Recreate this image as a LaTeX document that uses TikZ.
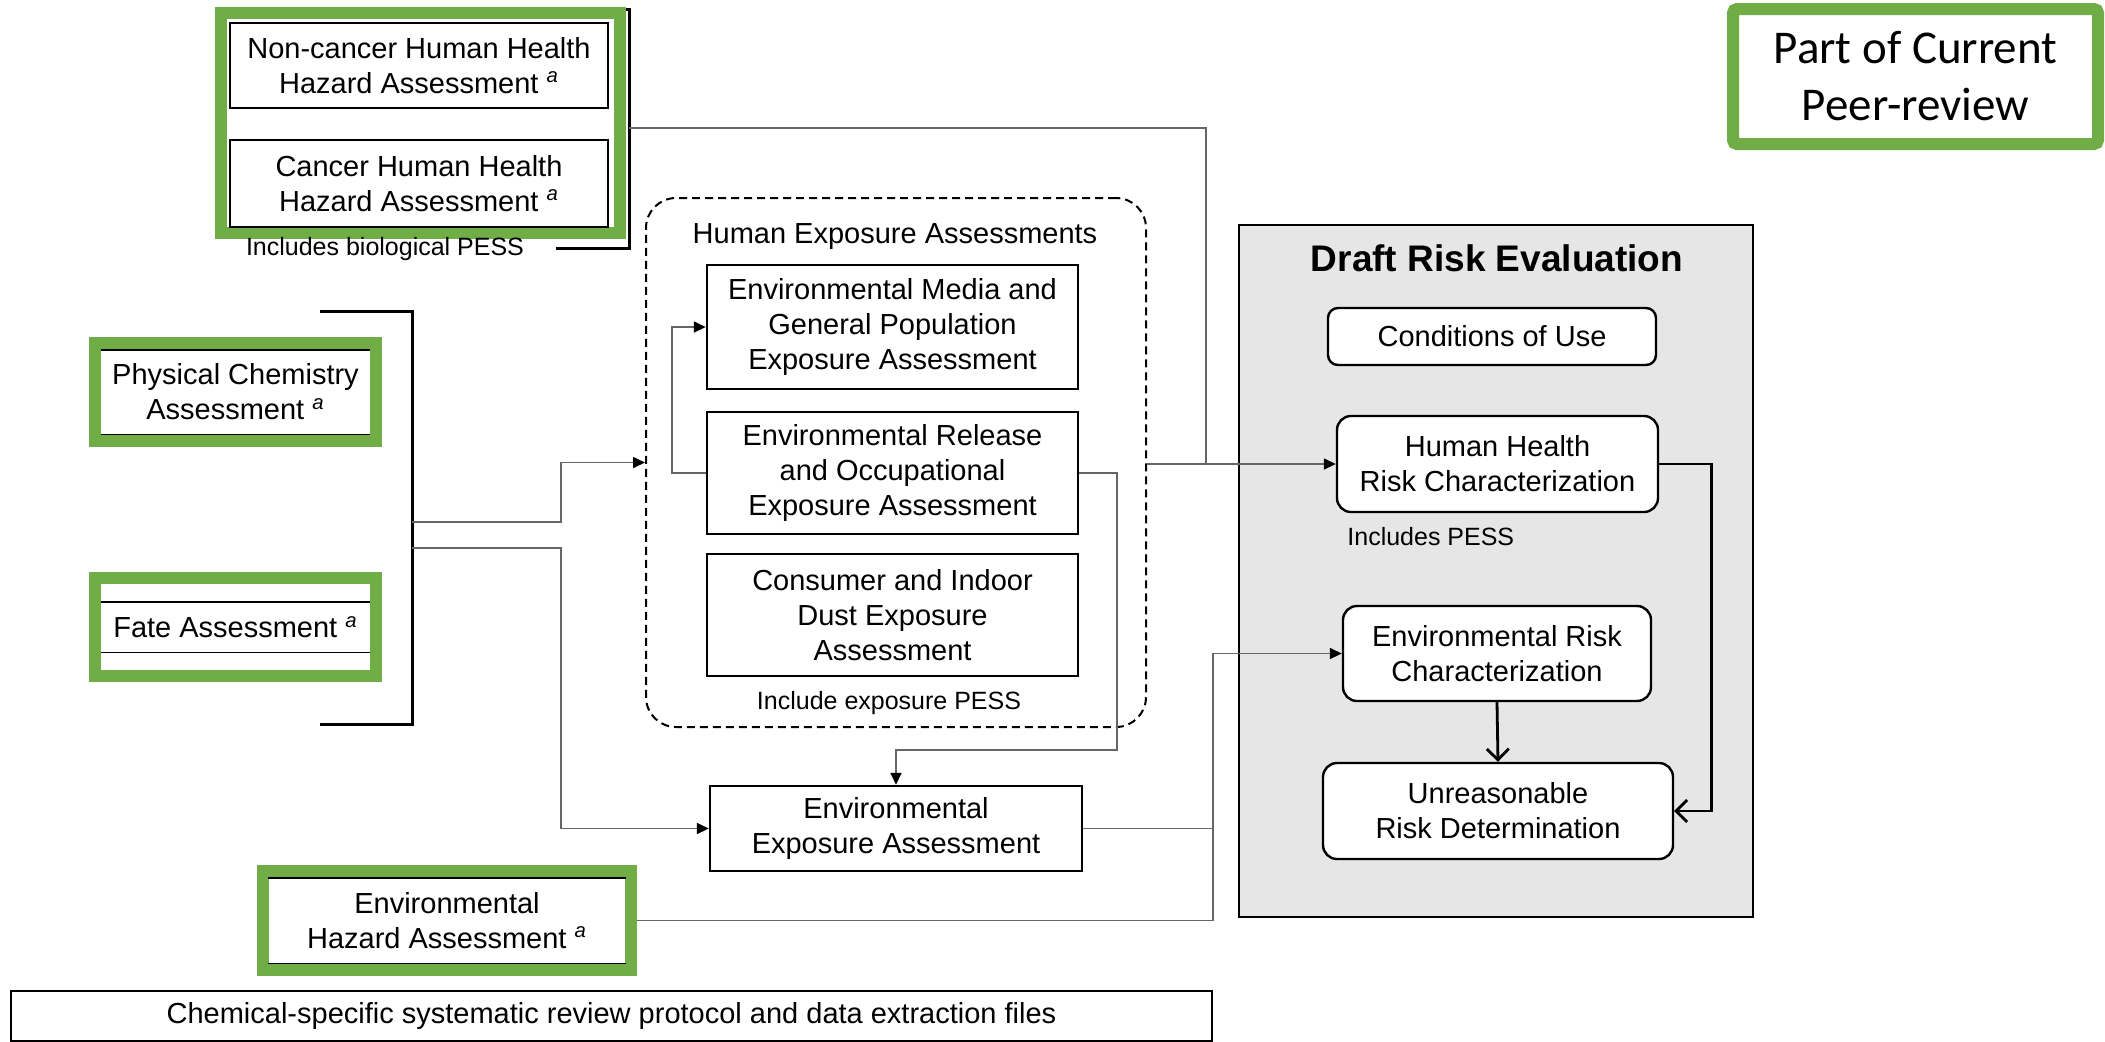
\documentclass[tikz,border=0pt]{standalone}
\usepackage{fontspec}
\setmainfont{Liberation Sans}
\newfontfamily\calibrifont{Carlito}
\usetikzlibrary{arrows.meta,calc}

\definecolor{peergreen}{HTML}{70AD47}
\definecolor{panelgray}{HTML}{E6E6E6}
\definecolor{wiregray}{HTML}{666666}

\newcommand\hazsup{\textsuperscript{\itshape a}}

\begin{document}
\begin{tikzpicture}[x=0.5pt,y=-0.5pt,
  txt/.style={font=\fontsize{14.5pt}{17.5pt}\selectfont, align=center, inner sep=2pt},
  note/.style={font=\fontsize{12.5pt}{15pt}\selectfont, inner sep=0pt},
  plainbox/.style={txt, draw=black, line width=1.2pt, fill=white},
  riskbox/.style={plainbox, rounded corners=7pt},
  greenframe/.style={draw=peergreen, line width=6pt, fill=white, inner sep=0pt},
  innerpanel/.style={txt, draw=none},
  rule/.style={line width=0.9pt, black},
  bracket/.style={line width=1.5pt, black},
  wire/.style={line width=0.8pt, draw=wiregray},
  conn/.style={wire, -{Triangle[length=6pt,width=5.5pt,color=black]}},
  flow/.style={line width=1.4pt, black, -{Straight Barb[length=5.5pt,width=11pt]}},
]
\fill[white] (0,0) rectangle (2105,1041);
\useasboundingbox (0,0) rectangle (2105,1041);

% ---- human health hazard group ----
\draw[bracket] (556,248) -- (629,248) -- (629,9) -- (600,9);
\coordinate (hhtap) at (629,128);
\node[greenframe, minimum width=199.5pt, minimum height=110pt] (hhframe) at (420.5,123) {};
\node[plainbox, minimum width=189pt, minimum height=42.5pt] (noncancer) at (419,65.5)
  {Non-cancer Human Health\\Hazard Assessment \hazsup};
\node[plainbox, minimum width=189pt, minimum height=43.5pt] (cancer) at (419,183.5)
  {Cancer Human Health\\Hazard Assessment \hazsup};
\node[note] (biopess) at (385,249) {Includes biological PESS};

% ---- physical chemistry and fate group ----
\draw[bracket] (320,311) -- (412,311) -- (412,724) -- (320,724);
\coordinate (uptap) at (412,522);
\coordinate (lowtap) at (412,548);

\node[greenframe, minimum width=140.5pt, minimum height=49pt] (pcframe) at (235.5,392) {};
\node[innerpanel, minimum width=134.5pt, minimum height=42pt] (pchem) at (235.5,392)
  {Physical Chemistry\\Assessment \hazsup};
\draw[rule] (pchem.north west) -- (pchem.north east) (pchem.south west) -- (pchem.south east);

\node[greenframe, minimum width=140.5pt, minimum height=49pt] (fateframe) at (235.5,627) {};
\node[innerpanel, minimum width=134.5pt, minimum height=25pt] (fate) at (235.5,627)
  {Fate Assessment \hazsup};
\draw[rule] (fate.north west) -- (fate.north east) (fate.south west) -- (fate.south east);

% ---- environmental hazard ----
\node[greenframe, minimum width=184pt, minimum height=49.5pt] (ehframe) at (447,920.5) {};
\node[innerpanel, minimum width=179pt, minimum height=42.5pt] (envhaz) at (447,920.5)
  {Environmental\\Hazard Assessment \hazsup};
\draw[rule] (envhaz.north west) -- (envhaz.north east) (envhaz.south west) -- (envhaz.south east);

% ---- human exposure assessments ----
\node[draw=black, dash pattern=on 4pt off 2.5pt, line width=1pt, rounded corners=15pt,
      minimum width=250pt, minimum height=264.5pt] (hea) at (896,462.5) {};
\node[txt] (heatitle) at (895,237) {Human Exposure Assessments};
\node[plainbox, minimum width=185.5pt, minimum height=62pt] (media) at (892.5,327)
  {Environmental Media and\\General Population\\Exposure Assessment};
\node[plainbox, minimum width=185.5pt, minimum height=61pt] (release) at (892.5,473)
  {Environmental Release\\and Occupational\\Exposure Assessment};
\node[plainbox, minimum width=185.5pt, minimum height=61pt] (consumer) at (892.5,615)
  {Consumer and Indoor\\Dust Exposure\\Assessment};
\node[note] (expopess) at (889,703) {Include exposure PESS};

\node[plainbox, minimum width=186pt, minimum height=42.5pt] (envexp) at (896,828.5)
  {Environmental\\Exposure Assessment};

% ---- draft risk evaluation ----
\node[draw=black, line width=1.3pt, fill=panelgray, minimum width=257pt, minimum height=346pt] (dre) at (1496,571) {};
\node[font=\fontsize{18.5pt}{21pt}\selectfont\bfseries, inner sep=0pt] (dretitle) at (1497,258) {Draft Risk Evaluation};
\node[riskbox, minimum width=164pt, minimum height=28.5pt, rounded corners=5pt] (cou) at (1492,336.5) {Conditions of Use};
\node[riskbox, minimum width=160.5pt, minimum height=48pt] (hh) at (1497.5,464)
  {Human Health\\Risk Characterization};
\node[note, anchor=west] (pess) at (1347,537) {Includes PESS};
\node[riskbox, minimum width=154pt, minimum height=47.5pt] (envrisk) at (1497,653.5)
  {Environmental Risk\\Characterization};
\node[riskbox, minimum width=175pt, minimum height=48pt] (unreas) at (1498,811)
  {Unreasonable\\Risk Determination};

% ---- legend ----
\node[draw=peergreen, line width=6pt, rounded corners=2pt, fill=white,
      minimum width=182.5pt, minimum height=67.5pt, align=center,
      font=\calibrifont\fontsize{23.5pt}{28.5pt}\selectfont] (peer) at (1915.5,76.5)
  {Part of Current\\Peer-review};

% ---- protocol bar ----
\node[txt, draw=black, line width=1pt, minimum width=600.5pt, minimum height=25pt] (protocol) at (611.5,1016)
  {Chemical-specific systematic review protocol and data extraction files};

% ---- connectors ----
\coordinate (hhjoin) at (1206,464);
\draw[wire] (hhtap) -| (hhjoin);
\draw[conn] (hea.east |- hh.west) -- (hh.west);
\draw[conn] (uptap) -- ++(149,0) |- (hea.west);
\draw[conn] (lowtap) -- ++(149,0) |- (envexp.west);
\draw[conn] (release.west) -- ++(-34,0) |- (media.west);
\draw[conn] (release.east) -- ++(38,0) -- ++(0,277) -| (envexp.north);
\coordinate (erjoin) at (1213,653.5);
\draw[wire] (envexp.east) -- (envexp.east -| erjoin);
\draw[conn] (ehframe.east) -| (erjoin) -- (envrisk.west);
\draw[flow] (hh.east) -- ++(52,0) |- (unreas.east);
\draw[flow] (envrisk.south) -- (unreas.north);
\end{tikzpicture}
\end{document}
